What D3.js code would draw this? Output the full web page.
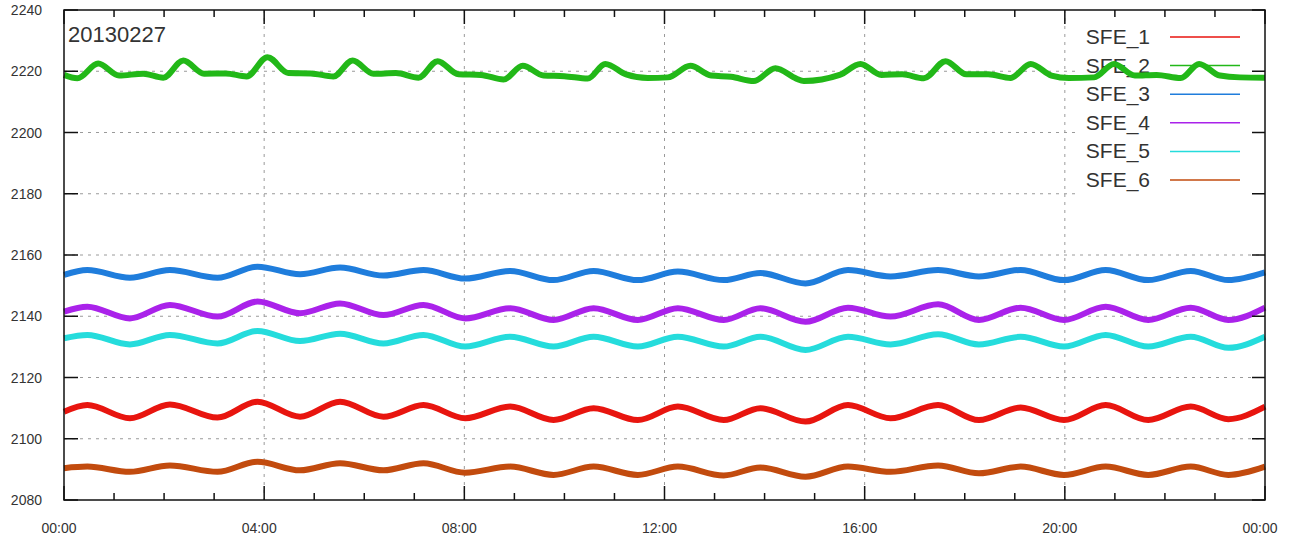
<!DOCTYPE html>
<html>
<head>
<meta charset="utf-8">
<script src="https://d3js.org/d3.v7.min.js"></script>
<style>
body { margin: 0; background: #fff; }
text { font-family: "Liberation Sans", Arial, sans-serif; fill: #333; }
</style>
</head>
<body>
<svg id="svg" width="1296" height="540"></svg>
<script>
var title = "20130227";
var names = ["SFE_1", "SFE_2", "SFE_3", "SFE_4", "SFE_5", "SFE_6"];
var colors = ["#e8150f", "#22b818", "#1f7ddc", "#aa22ea", "#25dcdc", "#c24b0e"];
var yTicks = [2080, 2100, 2120, 2140, 2160, 2180, 2200, 2220, 2240];
var xTicks = [0, 240, 480, 720, 960, 1200, 1440];
var xLabels = ["00:00", "04:00", "08:00", "12:00", "16:00", "20:00", "00:00"];

// minutes of the day at the peaks / troughs of the slow wave
var times = [0, 28, 79, 127, 184, 232, 283, 331, 383, 431, 481, 535, 587, 635, 688,
	736, 791, 835, 889, 940, 991, 1048, 1097, 1147, 1199, 1249, 1300, 1351, 1396, 1440];
var sfe1 = [2108.8, 2111.0, 2106.7, 2111.2, 2106.9, 2112.1, 2107.2, 2112.1, 2107.2, 2111.0,
	2106.7, 2110.5, 2106.1, 2110.0, 2106.1, 2110.5, 2106.1, 2110.0, 2105.6, 2111.0,
	2106.7, 2111.0, 2106.1, 2110.2, 2106.1, 2111.0, 2106.1, 2110.5, 2106.4, 2110.5];
var sfe3 = [2153.5, 2155.1, 2152.6, 2155.1, 2152.6, 2156.2, 2153.7, 2155.9, 2153.3, 2155.1,
	2152.3, 2154.8, 2151.8, 2154.8, 2151.8, 2154.6, 2151.8, 2154.1, 2150.7, 2155.1,
	2153.0, 2155.1, 2153.0, 2155.1, 2151.8, 2155.1, 2151.8, 2154.8, 2151.8, 2154.3];
var sfe4 = [2141.5, 2143.1, 2139.3, 2143.7, 2139.9, 2144.8, 2141.0, 2144.2, 2140.4, 2143.7,
	2139.3, 2142.6, 2138.8, 2142.6, 2138.8, 2142.6, 2138.8, 2142.6, 2138.2, 2142.8,
	2139.9, 2143.9, 2138.8, 2142.8, 2138.8, 2143.1, 2138.8, 2142.8, 2138.8, 2142.8];
var sfe5 = [2132.8, 2133.9, 2130.8, 2133.9, 2131.1, 2135.2, 2131.9, 2134.3, 2131.1, 2133.9,
	2130.1, 2133.3, 2130.1, 2133.3, 2130.1, 2133.3, 2130.1, 2133.3, 2129.0, 2133.3,
	2130.8, 2134.1, 2130.8, 2133.3, 2130.1, 2133.9, 2130.1, 2133.3, 2129.7, 2133.3];
var sfe6 = [2090.4, 2090.9, 2089.2, 2091.3, 2089.2, 2092.5, 2089.7, 2092.0, 2089.7, 2092.0,
	2088.9, 2090.9, 2088.2, 2090.9, 2088.2, 2090.9, 2088.0, 2090.6, 2087.6, 2090.9,
	2089.2, 2091.3, 2088.7, 2090.9, 2088.2, 2090.9, 2088.2, 2090.9, 2088.2, 2090.9];

// SFE_2 has short bumps, so it gets its own time points
var times2 = [0, 16, 41, 66, 95, 119, 143, 168, 194, 219, 244, 269, 296, 323, 346, 371, 398, 425,
	448, 473, 500, 527, 550, 575, 600, 628, 649, 674, 700, 724, 751, 776, 800, 827, 853, 878, 887,
	930, 955, 980, 1005, 1031, 1057, 1082, 1108, 1135, 1159, 1184, 1205, 1235, 1259, 1284, 1310,
	1339, 1361, 1386, 1410, 1440];
var sfe2 = [2218.8, 2217.7, 2222.5, 2218.6, 2219.2, 2217.9, 2223.5, 2219.2, 2219.3, 2218.3,
	2224.6, 2219.4, 2219.3, 2218.3, 2223.5, 2219.2, 2219.4, 2217.9,
	2223.3, 2219.0, 2218.8, 2217.3, 2221.8, 2218.6, 2218.4, 2217.6, 2222.4, 2219.0, 2217.8, 2218.0,
	2221.8, 2218.6, 2218.2, 2216.8, 2221.0, 2217.6, 2216.8,
	2218.8, 2222.4, 2218.8, 2219.0, 2217.7, 2223.3, 2219.0, 2219.0, 2217.8, 2222.4, 2218.6, 2217.8,
	2218.0, 2222.4, 2218.6, 2218.8, 2217.8, 2222.4, 2218.6, 2218.0, 2217.9];

var plotL = 64, plotR = 1265, plotT = 10, plotB = 500;
var svg = d3.select("#svg");

var x = d3.scaleLinear().domain([0, 1440]).range([plotL, plotR]);
var y = d3.scaleLinear().domain([2080, 2240]).range([plotB, plotT]);

// grid
var grid = svg.append("g").attr("id", "grid");
grid.selectAll("line.gy").data(yTicks.slice(1, -1)).enter().append("line")
	.attr("x1", plotL).attr("x2", plotR).attr("y1", function(d){ return y(d); }).attr("y2", function(d){ return y(d); })
	.attr("stroke", "#9a9a9a").attr("stroke-width", 1).attr("stroke-dasharray", "3,5");
grid.selectAll("line.gx").data(xTicks.slice(1, -1)).enter().append("line")
	.attr("y1", plotT).attr("y2", plotB).attr("x1", function(d){ return x(d); }).attr("x2", function(d){ return x(d); })
	.attr("stroke", "#9a9a9a").attr("stroke-width", 1).attr("stroke-dasharray", "3,5");

// legend box sits under the data
svg.append("rect").attr("x", 1080).attr("y", plotT + 1).attr("width", plotR - 1081).attr("height", 190).style("fill", "#fff");
var legend = svg.append("g").attr("id", "legend");
for(var i = 0; i < names.length; i++){
	var ly = 37 + i * 28.6;
	legend.append("text").attr("x", 1150).attr("y", ly + 7).attr("text-anchor", "end")
		.style("font-size", "21px").text(names[i]);
	legend.append("line").attr("x1", 1170).attr("x2", 1240).attr("y1", ly).attr("y2", ly)
		.attr("stroke", colors[i]).attr("stroke-width", 1.5);
}

// series
var wave = d3.line().x(function(d){ return x(d[0]); }).y(function(d){ return y(d[1]); }).curve(d3.curveMonotoneX);
var series = [
	{ t: times, v: sfe1 },
	{ t: times2, v: sfe2 },
	{ t: times, v: sfe3 },
	{ t: times, v: sfe4 },
	{ t: times, v: sfe5 },
	{ t: times, v: sfe6 }
];
var data = svg.append("g").attr("id", "data-lines");
for(var j = 0; j < series.length; j++){
	var pts = series[j].t.map(function(t, k){ return [t, series[j].v[k]]; });
	data.append("path").attr("d", wave(pts)).attr("fill", "none")
		.attr("stroke", colors[j]).attr("stroke-width", 6).attr("stroke-linejoin", "round");
}

// frame and ticks
svg.append("rect").attr("x", plotL).attr("y", plotT).attr("width", plotR - plotL).attr("height", plotB - plotT)
	.attr("fill", "none").attr("stroke", "#111").attr("stroke-width", 1.5);

var ax = svg.append("g").attr("id", "axes");
ax.selectAll("line.yt").data(yTicks).enter().append("line")
	.attr("x1", plotL).attr("x2", plotL + 14).attr("y1", function(d){ return y(d); }).attr("y2", function(d){ return y(d); })
	.attr("stroke", "#111").attr("stroke-width", 1.5);
ax.selectAll("line.yr").data(yTicks).enter().append("line")
	.attr("x1", plotR - 13).attr("x2", plotR).attr("y1", function(d){ return y(d); }).attr("y2", function(d){ return y(d); })
	.attr("stroke", "#111").attr("stroke-width", 1.5);

var hours = d3.range(0, 1441, 60);
ax.selectAll("line.xb").data(hours).enter().append("line")
	.attr("x1", function(d){ return x(d); }).attr("x2", function(d){ return x(d); })
	.attr("y1", plotB).attr("y2", function(d){ return d % 240 === 0 ? plotB - 14 : plotB - 7; })
	.attr("stroke", "#111").attr("stroke-width", 1.5);
ax.selectAll("line.xt").data(hours).enter().append("line")
	.attr("x1", function(d){ return x(d); }).attr("x2", function(d){ return x(d); })
	.attr("y1", plotT).attr("y2", function(d){ return d % 240 === 0 ? plotT + 14 : plotT + 7; })
	.attr("stroke", "#111").attr("stroke-width", 1.5);

ax.selectAll("text.yl").data(yTicks).enter().append("text")
	.attr("x", 42).attr("y", function(d){ return y(d) + 5; }).attr("text-anchor", "end")
	.style("font-size", "14px").text(function(d){ return d; });
ax.selectAll("text.xl").data(xTicks).enter().append("text")
	.attr("x", function(d){ return x(d) - 5; }).attr("y", 533).attr("text-anchor", "middle")
	.style("font-size", "14px").text(function(d, i){ return xLabels[i]; });

svg.append("text").attr("x", 68).attr("y", 42).style("font-size", "22px").text(title);
</script>
</body>
</html>
